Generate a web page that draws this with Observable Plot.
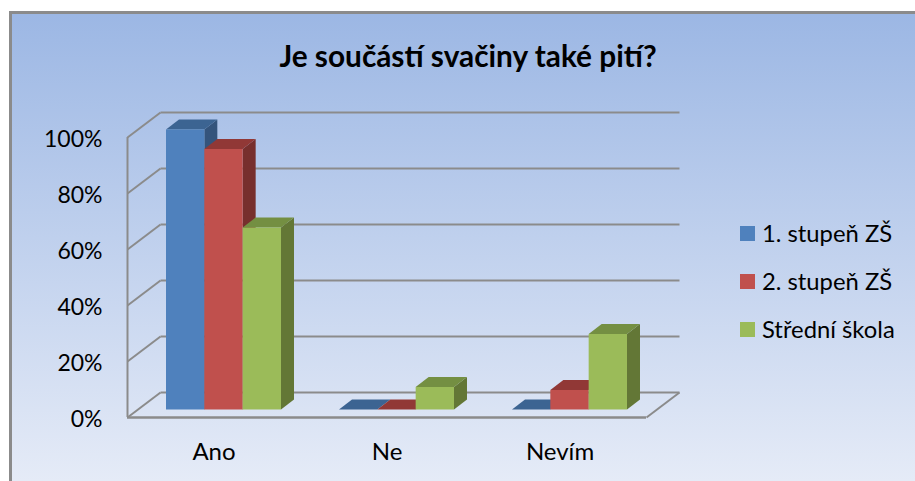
<!DOCTYPE html>
<html>
<head>
<meta charset="utf-8">
<script src="https://cdn.jsdelivr.net/npm/d3@7"></script>
<script src="https://cdn.jsdelivr.net/npm/@observablehq/plot@0.6"></script>
<style>
html,body{margin:0;padding:0;background:#fff;overflow:hidden}
body{width:915px;height:481px;position:relative;font-family:Lato,sans-serif;color:#000}
#panel{position:absolute;left:9px;top:11px;width:906px;height:470px;box-sizing:border-box;border-left:3px solid #8b8b8b;border-top:3px solid #8b8b8b;background:linear-gradient(#9cb7e4,#e5ebf7)}
#title{position:absolute;left:0;width:936px;top:38px;text-align:center;font-weight:700;font-size:29.8px;line-height:36px}
#chart{position:absolute;left:0;top:0}
#chart svg{background:transparent}
.key{position:absolute;left:740px;height:30px;display:flex;align-items:center;font-size:23.8px;white-space:nowrap}
.key i{display:inline-block;width:15px;height:15px;margin-right:7px}
</style>
</head>
<body>
<div id="panel"></div>
<div id="chart"></div>
<div id="title">Je součástí svačiny také pití?</div>
<div id="legend"></div>
<script>
const categories = ["Ano", "Ne", "Nevím"];
const seriesNames = ["1. stupeň ZŠ", "2. stupeň ZŠ", "Střední škola"];
const stupen1 = [100, 0, 0];
const stupen2 = [93, 0, 7];
const stredni = [65, 8, 27];
const yTicks = [0, 20, 40, 60, 80, 100];

const frontColors = ["#4f81bd", "#c0504d", "#9bbb59"];
const topColors = ["#3c6492", "#913836", "#748f42"];
const sideColors = ["#34547c", "#772f2d", "#637736"];

// Depth geometry, in scale units
const wallDx = 33 / 173, wallDy = 25 / 2.8;
const barInset = 38.5 / 173, barW = (115 / 3) / 173;
const baseY = 8 / 2.8, barDx = 13 / 173, barDy = 10 / 2.8;

const faces = [];
[stupen1, stupen2, stredni].forEach((values, s) => {
  values.forEach((v, c) => {
    const x0 = c + barInset + s * barW, x1 = x0 + barW;
    const y0 = baseY, y1 = baseY + v;
    const add = (kind, color, pts) => pts.forEach(([x, y]) =>
      faces.push({id: `${c}-${s}-${kind}`, color, x, y}));
    add("side", sideColors[s], [[x1, y0], [x1 + barDx, y0 + barDy], [x1 + barDx, y1 + barDy], [x1, y1]]);
    add("top", topColors[s], [[x0, y1], [x0 + barDx, y1 + barDy], [x1 + barDx, y1 + barDy], [x1, y1]]);
    add("front", frontColors[s], [[x0, y0], [x1, y0], [x1, y1], [x0, y1]]);
  });
});

const gridColor = "#8b8b8b";
const plot = Plot.plot({
  width: 915,
  height: 481,
  marginLeft: 127,
  marginRight: 269,
  marginTop: 137,
  marginBottom: 64,
  style: {background: "transparent", fontFamily: "Lato, sans-serif", color: "#000"},
  x: {domain: [0, categories.length], label: null},
  y: {domain: [0, 100], label: null},
  marks: [
    Plot.link(yTicks, {x1: wallDx, x2: categories.length + wallDx, y1: d => d + wallDy, y2: d => d + wallDy, stroke: gridColor, strokeWidth: 2}),
    Plot.link(yTicks, {x1: 0, x2: wallDx, y1: d => d, y2: d => d + wallDy, stroke: gridColor, strokeWidth: 2}),
    Plot.ruleX([0], {y1: 0, y2: 100, stroke: gridColor, strokeWidth: 2}),
    Plot.ruleY([0], {x1: 0, x2: categories.length, stroke: gridColor, strokeWidth: 2.5}),
    Plot.link([0], {x1: categories.length, x2: categories.length + wallDx, y1: 0, y2: wallDy, stroke: gridColor, strokeWidth: 2}),
    Plot.line(faces, {x: "x", y: "y", z: "id", fill: "color", stroke: "none", curve: "linear"}),
    Plot.axisY({ticks: yTicks, tickFormat: d => d + "%", tickSize: 0, tickPadding: 25, fontSize: 23, dy: 2, label: null}),
    Plot.axisX({ticks: categories.map((_, i) => i + 0.5), tickFormat: d => categories[d - 0.5], tickSize: 0, tickPadding: 25, fontSize: 24, label: null})
  ]
});
document.getElementById("chart").append(plot);

const legend = document.getElementById("legend");
seriesNames.forEach((name, i) => {
  const row = document.createElement("div");
  row.className = "key";
  row.style.top = (218 + i * 48) + "px";
  const sw = document.createElement("i");
  sw.style.background = frontColors[i];
  row.append(sw, name);
  legend.append(row);
});
</script>
</body>
</html>
